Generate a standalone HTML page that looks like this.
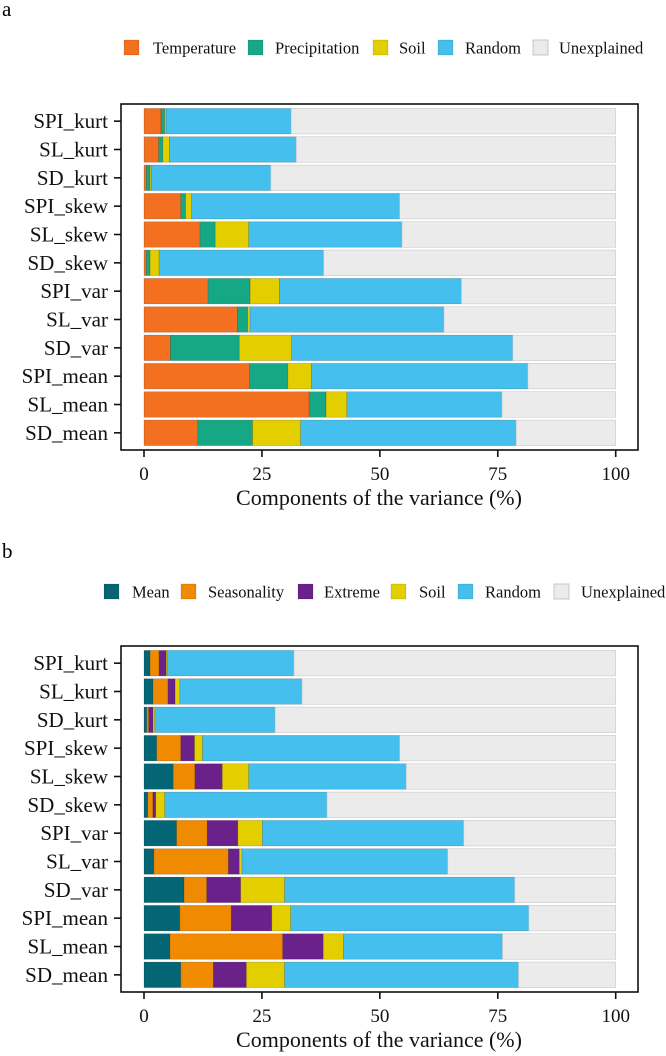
<!DOCTYPE html>
<html><head><meta charset="utf-8"><style>
html,body{margin:0;padding:0;background:#fff;}
svg{display:block;font-family:"Liberation Serif",serif;}
</style></head><body>
<svg id="chart" width="666" height="1056" xmlns="http://www.w3.org/2000/svg"></svg>
<script>
const categories = ["SPI_kurt","SL_kurt","SD_kurt","SPI_skew","SL_skew","SD_skew","SPI_var","SL_var","SD_var","SPI_mean","SL_mean","SD_mean"];
const tickValues = [0,25,50,75,100];
// Panel a values (%)
const aTemperature = [3.6,3.1,0.5,7.8,11.9,0.5,13.6,19.8,5.6,22.4,35.0,11.4];
const aPrecipitation = [0.8,0.9,0.8,1.0,3.2,0.8,8.9,2.2,14.6,8.1,3.6,11.6];
const aSoil = [0.3,1.4,0.3,1.3,7.1,1.9,6.2,0.5,11.1,5.0,4.4,10.2];
const aRandom = [26.5,26.9,25.3,44.1,32.5,34.9,38.6,41.1,46.9,45.9,32.9,45.7];
// Panel b values (%)
const bMean = [1.3,1.9,0.6,2.7,6.2,0.8,6.9,2.1,8.5,7.6,5.5,7.8];
const bSeasonality = [1.9,3.2,0.4,5.1,4.6,1.1,6.5,15.8,4.8,10.9,23.9,6.9];
const bExtreme = [1.5,1.5,0.9,2.9,5.8,0.6,6.5,2.3,7.2,8.6,8.6,7.0];
const bSoil = [0.2,1.0,0.4,1.7,5.6,1.9,5.2,0.6,9.3,4.0,4.3,8.1];
const bRandom = [26.9,25.9,25.5,41.8,33.4,34.4,42.7,43.6,48.8,50.5,33.7,49.6];

const NS="http://www.w3.org/2000/svg";
const svg=document.getElementById('chart');
function mk(tag,attrs,parent){const e=document.createElementNS(NS,tag);for(const k in attrs)e.setAttribute(k,attrs[k]);(parent||svg).appendChild(e);return e;}
const x0=144,x100=615.7;
function xs(v){return x0+(x100-x0)*v/100;}

function panel(letter,top,series,names,colors,legendSq,legendTx,legendY){
  const g=mk('g',{});
  
  
  const lab=mk('text',{x:2,y:top-88,'font-size':21},g);lab.textContent=letter;
  
  
  const lg=mk('g',{},g);
  
  
  const allNames=names.concat(['Random','Unexplained']);
  const allCols=colors.concat(['#44BFEE','#EBEBEB']);
  allNames.forEach((n,i)=>{
    const it=mk('g',{},lg);
    
    
    mk('rect',{x:legendSq[i],y:legendY-8,width:15,height:15,fill:allCols[i],stroke:i==allNames.length-1?'#bbb':'rgba(0,0,0,0.15)','stroke-width':0.8},it);
    const t=mk('text',{x:legendTx[i],y:legendY+5.5,'font-size':16.5,fill:'#111'},it);t.textContent=n;
  });
  const fTop=top,fBot=top+346,fL=121,fR=638;
  const band=(fBot-fTop-6)/12, bh=band*0.9;
  categories.forEach((c,i)=>{
    const yC=fTop+3+band*(i+0.5);
    let cum=0;
    const vals=series.map(s=>s[i]);
    const tot=vals.reduce((a,b)=>a+b,0);
    vals.concat([100-tot]).forEach((v,k)=>{
      const r=mk('rect',{x:xs(cum),y:yC-bh/2,width:Math.max(0,xs(cum+v)-xs(cum)),height:bh,fill:allCols[k],stroke:k==vals.length?'#c8c8c8':'rgba(0,0,0,0.25)','stroke-width':0.6},g);
      
      
      cum+=v;
    });
    const t=mk('text',{x:fL-13,y:yC+7,'font-size':21,'text-anchor':'end',fill:'#111'},g);t.textContent=c;
    
    
    mk('line',{x1:fL-7,x2:fL,y1:yC,y2:yC,stroke:'#111','stroke-width':1.6},g);
  });
  const fr=mk('rect',{x:fL,y:fTop,width:fR-fL,height:fBot-fTop,fill:'none',stroke:'#111','stroke-width':1.6},g);
  
  
  tickValues.forEach(v=>{
    mk('line',{x1:xs(v),x2:xs(v),y1:fBot,y2:fBot+7,stroke:'#111','stroke-width':1.6},g);
    const t=mk('text',{x:xs(v),y:fBot+30,'font-size':19,'text-anchor':'middle',fill:'#111'},g);t.textContent=v;
    
    
  });
  const xt=mk('text',{x:379,y:fBot+55,'font-size':22,'text-anchor':'middle',fill:'#111'},g);
  xt.textContent='Components of the variance (%)';
  
  
}
panel('a',104,[aTemperature,aPrecipitation,aSoil,aRandom],['Temperature','Precipitation','Soil'],['#F37021','#16A884','#E3CF00'],
  [124,248,373,438,533],[153,275,399,465,559],48);
panel('b',646,[bMean,bSeasonality,bExtreme,bSoil,bRandom],['Mean','Seasonality','Extreme','Soil'],['#046674','#F08A00','#6A218A','#E3CF00'],
  [104,181,298,391,458,554],[132,208,324,419,485,581],592);
</script>
</body></html>
